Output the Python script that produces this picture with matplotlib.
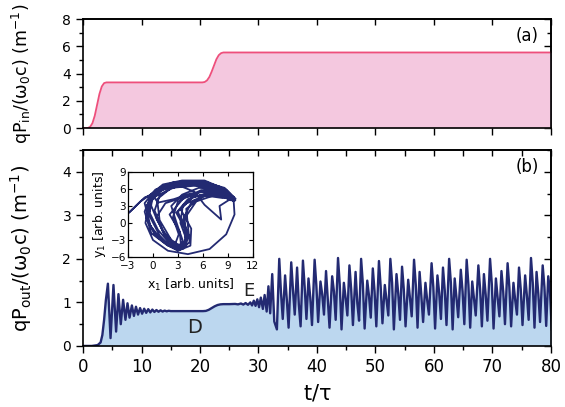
import matplotlib
matplotlib.use("Agg")
import matplotlib.pyplot as plt
from matplotlib.ticker import MultipleLocator

# ---- panel (a): input power ----
a_t = [0, 0.8, 1.2, 1.6, 2.0, 2.4, 2.8, 3.2, 3.6, 4.0,
       20.4, 20.8, 21.2, 21.6, 22.0, 22.4, 22.8, 23.2, 23.6, 24.0, 80]
a_v = [0, 0, 0.08, 0.35, 0.9, 1.7, 2.5, 3.05, 3.3, 3.35,
       3.35, 3.38, 3.5, 3.75, 4.15, 4.6, 5.05, 5.35, 5.5, 5.55, 5.55]

# ---- panel (b): output power, start-up + D + E part ----
b_t = [0, 1.5, 2.5, 3.0, 3.3, 3.6, 3.9, 4.25, 4.7, 5.2, 5.65, 6.05, 6.45, 6.85, 7.25,
       7.6, 7.95, 8.35, 8.7, 9.05, 9.4, 9.75, 10.1, 10.45, 10.8, 11.15, 11.5, 11.85,
       12.2, 12.55, 12.9, 13.25, 13.6, 13.95, 14.3, 14.65, 15.0, 16.0, 20.5, 21.0,
       21.5, 22.0, 22.5, 23.0, 23.5, 24.0, 25.0, 26.0, 26.5, 27.0, 27.4, 27.8, 28.2,
       28.6, 28.9, 29.2, 29.5, 29.8, 30.1, 30.4, 30.75, 31.05, 31.4, 31.7, 32.0,
       32.35, 32.7, 33.15]
b_v = [0, 0.0, 0.02, 0.08, 0.25, 0.6, 1.05, 1.43, 0.18, 1.40, 0.33, 1.19, 0.5, 1.06, 0.6,
       0.98, 0.65, 0.93, 0.69, 0.9, 0.72, 0.87, 0.74, 0.855, 0.76, 0.845, 0.77, 0.835,
       0.78, 0.825, 0.785, 0.818, 0.79, 0.812, 0.795, 0.808, 0.8, 0.8, 0.8, 0.805,
       0.83, 0.87, 0.91, 0.94, 0.955, 0.96, 0.96, 0.965, 0.955, 0.975, 0.95, 0.985, 0.945,
       1.0, 0.93, 1.04, 0.92, 1.07, 0.89, 1.11, 0.85, 1.17, 0.79, 1.37, 0.75, 1.65, 0.56,
       0.38]

# ---- panel (b): chaotic part, peak / shoulder / trough of each cycle ----
peak_t = [33.55, 34.55, 35.6, 36.6, 37.6, 38.55, 39.6, 40.6, 41.55, 42.6, 43.6, 44.6,
          45.55, 46.6, 47.55, 48.6, 49.55, 50.6, 51.6, 52.55, 53.6, 54.55, 55.6, 56.6,
          57.55, 58.55, 59.6, 60.6, 61.55, 62.6, 63.55, 64.6, 65.6, 66.55, 67.6, 68.55,
          69.6, 70.6, 71.55, 72.6, 73.6, 74.55, 75.6, 76.6, 77.55, 78.6, 79.55]
peak_v = [2.00, 1.62, 1.92, 1.80, 1.96, 1.55, 1.98, 1.48, 1.72, 1.60, 2.02, 1.45,
          1.85, 1.70, 2.00, 1.50, 1.78, 1.95, 1.40, 2.00, 1.65, 1.82, 1.52, 1.98,
          1.70, 1.45, 1.90, 1.62, 1.80, 2.00, 1.55, 1.75, 1.98, 1.48, 1.85, 1.65,
          2.00, 1.55, 1.72, 1.90, 1.45, 1.80, 1.62, 2.02, 1.70, 1.85, 1.60]
mid_t = [33.85, 34.85, 35.9, 36.9, 37.9, 38.85, 39.9, 40.9, 41.85, 42.9, 43.9, 44.9,
         45.85, 46.9, 47.85, 48.9, 49.85, 50.9, 51.9, 52.85, 53.9, 54.85, 55.9, 56.9,
         57.85, 58.85, 59.9, 60.9, 61.85, 62.9, 63.85, 64.9, 65.9, 66.85, 67.9, 68.85,
         69.9, 70.9, 71.85, 72.9, 73.9, 74.85, 75.9, 76.9, 77.85, 78.9, 79.85]
mid_v = [1.22, 1.05, 1.28, 0.95, 1.35, 1.12, 1.38, 1.18, 1.05, 1.25, 1.40, 1.10,
         1.30, 0.98, 1.42, 1.15, 1.25, 1.35, 1.05, 1.45, 1.20, 1.30, 1.10, 1.40,
         1.15, 1.05, 1.35, 1.22, 1.28, 1.45, 1.12, 1.25, 1.40, 1.08, 1.30, 1.18,
         1.42, 1.10, 1.25, 1.35, 1.05, 1.30, 1.15, 1.45, 1.20, 1.35, 1.25]
low_t = [34.15, 35.15, 36.2, 37.2, 38.2, 39.15, 40.2, 41.2, 42.15, 43.2, 44.2, 45.2,
         46.15, 47.2, 48.15, 49.2, 50.15, 51.2, 52.2, 53.15, 54.2, 55.15, 56.2, 57.2,
         58.15, 59.15, 60.2, 61.2, 62.15, 63.2, 64.15, 65.2, 66.2, 67.15, 68.2, 69.15,
         70.2, 71.2, 72.15, 73.2, 74.2, 75.15, 76.2, 77.2, 78.15, 79.2, 80.15]
low_v = [0.62, 0.42, 0.72, 0.45, 0.62, 0.48, 0.55, 0.72, 0.42, 0.60, 0.38, 0.70,
         0.48, 0.58, 0.40, 0.65, 0.45, 0.52, 0.70, 0.38, 0.60, 0.45, 0.68, 0.42,
         0.55, 0.72, 0.40, 0.62, 0.48, 0.38, 0.66, 0.50, 0.42, 0.70, 0.45, 0.58,
         0.40, 0.68, 0.50, 0.45, 0.72, 0.48, 0.60, 0.42, 0.55, 0.46, 0.38]

# ---- inset: phase portrait x1 / y1 ----
inset_x = [9.6, 8.2, 5.8, 3.0, 0.6, -0.7, -0.6, 0.6, 2.4, 3.7, 4.3, 3.6, 4.6, 7.0,
           9.9, 8.6, 6.0, 3.2, 1.0, -0.4, -0.8, 0.2, 1.8, 3.2, 4.4, 4.2, 4.0, 6.0, 8.5,
           9.0, 7.5, 5.0, 2.5, 0.8, 0.2, 1.2, 2.8, 3.9, 3.8, 3.0, 4.8, 7.8,
           9.7, 9.8, 8.8, 6.8, 4.2, 1.8, 0.0, -0.9, -0.5, 1.2, 4.0, 7.0, 9.2,
           9.5, 7.5, 4.5, 1.5, -1.0, -2.9, -1.5, 0.5, 3.0, 0.0, -0.5, 0.8, 2.0, 3.4, 4.0,
           3.3, 3.6, 6.5,
           9.8, 8.0, 5.5, 2.8, 0.3, -1.0, -0.3, 1.2, 2.8, 4.0, 4.1, 2.8, 4.2, 7.2,
           9.3, 7.8, 5.2, 2.2, 0.5, 0.8, 2.2, 3.4, 3.2, 2.0, 3.8, 6.8,
           9.6, 8.0, 8.2, 6.2, 5.0, 2.5, -0.2, -1.0, -0.2, 1.6, 3.0, 4.5, 4.6, 3.3, 5.5,
           8.5, 9.9, 8.8, 6.5, 3.8, 1.5, -0.2, -0.4, 0.6, 2.0, 3.6, 4.0, 3.8, 5.2, 8.0,
           9.6, 8.8, 7.0, 4.8, 2.5, 0.8, 0.0, 0.6, 2.5, 4.5, 6.8, 9.0, 9.8, 8.6, 6.2,
           3.5, 1.2, -0.3, -0.2, 0.5, 1.8, 3.0, 3.6, 2.8, 2.2, 3.5, 5.5, 7.8, 9.7, 8.4,
           6.0, 3.8, 1.5, 0.4, 1.4, 2.6, 3.1, 2.4, 3.0, 5.8, 8.8, 9.9]
inset_y = [4.0, 5.9, 7.1, 6.9, 5.6, 3.2, 0.2, -2.6, -4.3, -4.5, -2.2, 0.6, 3.6, 5.3,
           4.2, 6.2, 7.3, 7.0, 5.9, 3.8, 1.0, -2.0, -4.0, -4.8, -3.4, -0.5, 2.5, 4.8, 5.0,
           4.4, 6.3, 7.0, 6.5, 4.8, 2.2, -1.5, -3.9, -3.6, -1.0, 2.0, 4.6, 5.5,
           3.8, 1.5, -2.0, -4.6, -5.5, -4.9, -3.0, 0.0, 3.5, 6.0, 7.2, 6.8, 5.2,
           4.1, 6.0, 6.8, 6.0, 4.5, 1.8, 3.8, 5.8, 6.6, 4.5, 1.5, -2.2, -4.0, -4.2, -2.8,
           0.0, 3.2, 5.0,
           4.3, 6.4, 7.4, 7.2, 5.9, 3.5, -0.5, -3.3, -4.6, -4.0, -1.6, 1.8, 4.2, 5.6,
           4.0, 5.8, 6.6, 6.2, 4.2, 0.5, -3.0, -4.2, -1.5, 1.5, 4.6, 6.0,
           4.5, 3.0, 0.6, 3.2, 5.5, 7.0, 5.0, 2.0, -1.8, -3.8, -4.9, -4.0, -1.0, 2.5, 5.5,
           5.8, 4.0, 5.6, 7.2, 7.3, 6.4, 4.6, 1.8, -1.2, -3.6, -4.4, -2.5, 0.8, 3.8, 5.2,
           4.2, 5.4, 6.6, 7.4, 7.2, 6.2, 4.8, 3.6, 4.2, 5.2, 5.6, 4.8, 3.9, 6.0, 7.5,
           7.5, 6.8, 5.0, 3.0, 0.5, -2.8, -4.6, -3.2, 0.2, 3.0, 5.0, 6.2, 6.0, 4.6, 4.4,
           4.9, 4.6, 3.5, 1.0, -2.2, -4.0, -2.0, 1.0, 3.8, 5.8, 5.9, 4.3]

pink_line = "#ee4f7c"
pink_fill = "#f4c8df"
navy = "#232a72"
blue_fill = "#bcd7ef"

# merge chaotic cycles with the start-up curve
chaos = sorted(zip(peak_t + mid_t + low_t, peak_v + mid_v + low_v))
out_t = b_t + [p[0] for p in chaos]
out_v = b_v + [p[1] for p in chaos]

plt.rcParams["font.family"] = "DejaVu Sans"
plt.rcParams["axes.linewidth"] = 1.2
fig = plt.figure(figsize=(5.65, 4.07), dpi=100)
ax1 = fig.add_axes([0.147, 0.6855, 0.828, 0.2675])
ax2 = fig.add_axes([0.147, 0.15, 0.828, 0.4815])


def style(ax, xmaj, xmin, ymaj, ymin, xlabels):
    ax.xaxis.set_major_locator(MultipleLocator(xmaj))
    ax.yaxis.set_major_locator(MultipleLocator(ymaj))
    if xmin:
        ax.xaxis.set_minor_locator(MultipleLocator(xmin))
    ax.yaxis.set_minor_locator(MultipleLocator(ymin))
    ax.tick_params(which="major", direction="out", length=5, width=1, labelsize=10)
    ax.tick_params(which="minor", direction="out", length=3, width=1)
    ax.tick_params(axis="x", labelsize=12, labelbottom=xlabels)
    top = ax.secondary_xaxis("top")
    top.xaxis.set_major_locator(MultipleLocator(xmaj))
    if xmin:
        top.xaxis.set_minor_locator(MultipleLocator(xmin))
    top.tick_params(which="both", direction="in", labeltop=False, length=4, width=1)
    right = ax.secondary_yaxis("right")
    right.yaxis.set_major_locator(MultipleLocator(ymaj))
    right.yaxis.set_minor_locator(MultipleLocator(ymin))
    right.tick_params(which="major", direction="in", labelright=False, length=5, width=1)
    right.tick_params(which="minor", direction="in", length=3, width=1)


# panel (a)
ax1.fill_between(a_t, a_v, 0, color=pink_fill, lw=0)
ax1.plot(a_t, a_v, color=pink_line, lw=1.3)
ax1.set_xlim(0, 80)
ax1.set_ylim(0, 8)
style(ax1, 10, None, 2, 1, False)
ax1.set_ylabel(r"qP$_{\mathregular{in}}$/($\mathregular{\omega_0}$c) (m$^{\mathregular{-1}}$)",
               fontsize=12.5)
ax1.yaxis.set_label_coords(-0.105, 0.5)
ax1.text(75.9, 6.75, "(a)", fontsize=12, ha="center", va="center")

# panel (b)
ax2.fill_between(out_t, out_v, 0, color=blue_fill, lw=0)
ax2.plot(out_t, out_v, color=navy, lw=1.7)
ax2.set_xlim(0, 80)
ax2.set_ylim(0, 4.5)
style(ax2, 10, 5, 1, 0.5, True)
ax2.set_ylabel(r"qP$_{\mathregular{out}}$/($\mathregular{\omega_0}$c) (m$^{\mathregular{-1}}$)",
               fontsize=14)
ax2.yaxis.set_label_coords(-0.105, 0.5)
ax2.set_xlabel(r"t/$\mathregular{\tau}$", fontsize=15, labelpad=5)
ax2.text(76, 4.1, "(b)", fontsize=12, ha="center", va="center")
ax2.text(19.1, 0.43, "D", fontsize=14, ha="center", va="center", color="#222222")
ax2.text(28.4, 1.26, "E", fontsize=13, ha="center", va="center", color="#222222")

# inset
axi = fig.add_axes([0.2265, 0.3686, 0.221, 0.2088])
axi.plot(inset_x, inset_y, color=navy, lw=1.3)
axi.set_xlim(-3, 12)
axi.set_ylim(-6, 9)
axi.xaxis.set_major_locator(MultipleLocator(3))
axi.yaxis.set_major_locator(MultipleLocator(3))
axi.tick_params(which="both", direction="in", top=True, right=True, length=3,
                width=0.8, labelsize=7.5)
axi.tick_params(axis="x", pad=3)
axi.tick_params(axis="y", pad=1.5)
for s in axi.spines.values():
    s.set_linewidth(0.9)
axi.set_xlabel(r"x$_{\mathregular{1}}$ [arb. units]", fontsize=9, labelpad=4)
axi.set_ylabel(r"y$_{\mathregular{1}}$ [arb. units]", fontsize=9, labelpad=2)

fig.savefig("out.png", dpi=100)
